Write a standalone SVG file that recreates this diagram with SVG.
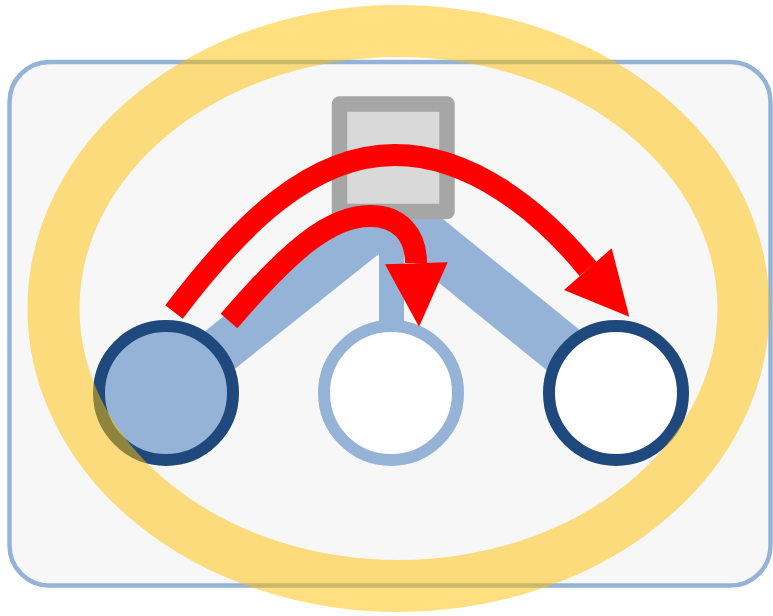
<svg xmlns="http://www.w3.org/2000/svg" width="773" height="616" viewBox="0 0 773 616">
<defs>
<style>
.band{stroke:#95b3d7;fill:none;stroke-linecap:butt}
.node{stroke-width:12}
.dark{stroke:#1f497d}
.light{stroke:#95b3d7}
.red{stroke:#ff0000;stroke-width:22;fill:none;stroke-linecap:butt}
.head{fill:#ff0000}
</style>
</defs>
<rect id="frame" x="9.5" y="62" width="761" height="523.5" rx="40" ry="40" fill="#f7f7f7" stroke="#95b3d7" stroke-width="4.5"/>
<g id="connectors">
<line class="band" x1="393" y1="212" x2="166" y2="393" stroke-width="48"/>
<line class="band" x1="393" y1="212" x2="616" y2="393" stroke-width="52"/>
<line class="band" x1="391.5" y1="212" x2="391.5" y2="393" stroke-width="25"/>
</g>
<g id="hub">
<rect x="339.5" y="104" width="107.5" height="107.5" fill="#d9d9d9" stroke="#a6a6a6" stroke-width="15.5" stroke-linejoin="round"/>
</g>
<g id="node-left">
<circle class="node dark" cx="166" cy="393" r="67" fill="#95b3d7"/>
</g>
<g id="node-middle">
<circle class="node light" cx="391" cy="393" r="67" fill="#ffffff"/>
</g>
<g id="node-right">
<circle class="node dark" cx="616" cy="393" r="67" fill="#ffffff"/>
</g>
<g id="arrows">
<path class="red" d="M174,312 C240,225 310,155 395,155 C470,155 540,210 588,269"/>
<polygon class="head" points="564,290 611.7,248.3 629.3,316.7"/>
<path class="red" d="M229,321 C290,250 330,216 370,216 C400,216 416,235 416,263"/>
<polygon class="head" points="385,264.3 447.7,262.3 419,326.7"/>
</g>
<g id="highlight">
<ellipse cx="398.5" cy="308.5" rx="345" ry="277.5" fill="none" stroke="#ffc000" stroke-opacity="0.5" stroke-width="52"/>
</g>
</svg>
